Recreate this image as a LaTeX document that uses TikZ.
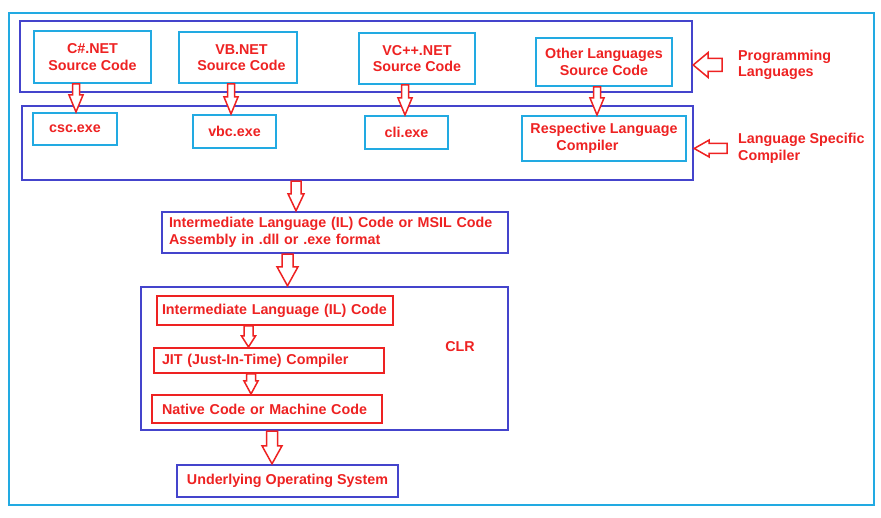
\documentclass[tikz,border=0pt]{standalone}
\usepackage{fontspec}
\setmainfont{Liberation Sans}
\usetikzlibrary{calc}
\definecolor{cy}{RGB}{34,170,226}
\definecolor{bl}{RGB}{68,68,204}
\definecolor{rd}{RGB}{238,34,34}
% down arrow: x, from node, to node, shaft half width, head half width, head length
\newcommand{\darr}[6]{%
  \draw[harrow] let \p1=(#2.south), \p2=(#3.north) in
   ({#1pt-#4pt},\y1) -- ({#1pt-#4pt},{\y2+#6pt}) -- ({#1pt-#5pt},{\y2+#6pt}) -- (#1pt,\y2)
   -- ({#1pt+#5pt},{\y2+#6pt}) -- ({#1pt+#4pt},{\y2+#6pt}) -- ({#1pt+#4pt},\y1) -- cycle;}
% left arrow: from label, to box, (unused), shaft half, head half, head length, gap
\newcommand{\larr}[7]{%
  \draw[harrow] let \p1=(#1.west), \p2=(#2.east) in
   ({\x1-#7pt},{\y1+#4pt}) -- ({\x2+#6pt},{\y1+#4pt}) -- ({\x2+#6pt},{\y1+#5pt}) -- (\x2,\y1)
   -- ({\x2+#6pt},{\y1-#5pt}) -- ({\x2+#6pt},{\y1-#4pt}) -- ({\x1-#7pt},{\y1-#4pt}) -- cycle;}
\tikzset{
  every node/.style={inner sep=0pt, font=\bfseries\fontsize{14.3}{16.5}\selectfont, text=rd},
  cbox/.style={draw=cy, line width=2pt},
  bbox/.style={draw=bl, line width=2.4pt},
  rbox/.style={draw=rd, line width=2pt},
  harrow/.style={draw=rd, line width=1.5pt, fill=white, line join=miter},
}
\begin{document}
\begin{tikzpicture}[x=1pt, y=-1pt]
\fill[white] (0,0) rectangle (881,518);
\useasboundingbox (0,0) rectangle (881,518);
\node[draw=cy, line width=2pt, minimum width=865pt, minimum height=492pt] (frame) at (441.5,259) {};
\node[bbox, minimum width=672pt, minimum height=71pt] (pl) at (356,56.5) {};
\node[bbox, minimum width=671pt, minimum height=74pt] (lc) at (357.5,143) {};
% source code boxes
\node[cbox, minimum width=117pt, minimum height=52pt, align=center] (cs) at (92.5,57) {C\#.NET\\Source Code};
\node[cbox, minimum width=118pt, minimum height=51pt, align=center] (vb) at (238,57.5) {\hspace*{7pt}VB.NET\\\hspace*{7pt}Source Code};
\node[cbox, minimum width=116pt, minimum height=51pt, align=center] (vc) at (417,58.5) {VC++.NET\\Source Code};
\node[cbox, minimum width=136pt, minimum height=48pt, align=center] (ot) at (604,62) {Other Languages\\Source Code};
% compiler boxes
\node[cbox, minimum width=84pt, minimum height=32pt] (csc) at (75,129) {csc.exe};
\node[cbox, minimum width=83pt, minimum height=33pt] (vbc) at (234.5,131.5) {vbc.exe};
\node[cbox, minimum width=83pt, minimum height=33pt] (cli) at (406.5,132.5) {cli.exe};
\node[cbox, minimum width=164pt, minimum height=45pt, align=left] (rl) at (604,138.5) {Respective Language\\\hspace*{26pt}Compiler};
% labels on the right
\node[anchor=west, align=left] (pll) at (738,65) {Programming\\Languages};
\node[anchor=west, align=left] (lcl) at (738,148.5) {Language Specific\\Compiler};
% IL
\node[bbox, minimum width=346pt, minimum height=41pt, inner xsep=7pt, text width=332pt, align=left] (il) at (335,232.5) {Intermediate Language (IL) Code or MSIL Code\\Assembly in .dll or .exe format};
% CLR
\node[bbox, minimum width=367pt, minimum height=143pt] (clr) at (324.5,358.5) {};
\node (clrl) at (460,347) {CLR};
\node[rbox, minimum width=236pt, minimum height=29pt, inner xsep=5pt, text width=226pt, align=left] (ilc) at (275,310.5) {Intermediate Language (IL) Code};
\node[rbox, minimum width=230pt, minimum height=25pt, inner xsep=8pt, text width=214pt, align=left] (jit) at (269,360.5) {JIT (Just-In-Time) Compiler};
\node[rbox, minimum width=230pt, minimum height=28pt, inner xsep=10pt, text width=210pt, align=left] (nat) at (267,409) {Native Code or Machine Code};
% OS
\node[bbox, minimum width=221pt, minimum height=32pt] (os) at (287.5,481) {Underlying Operating System};
% arrows
\darr{76}{cs}{csc}{3.5}{7}{17}
\darr{231}{vb}{vbc}{3.5}{7}{17}
\darr{405}{vc}{cli}{3.5}{7}{17}
\darr{597}{ot}{rl}{3.5}{7}{17}
\darr{296}{lc}{il}{5}{8}{17}
\darr{287.5}{il}{clr}{5.5}{10.5}{19}
\darr{248.5}{ilc}{jit}{4.5}{7}{11}
\darr{251}{jit}{nat}{4.5}{7}{13}
\darr{272}{clr}{os}{5.5}{10}{18}
\larr{pll}{pl}{0}{6.5}{12.5}{15}{16}
\larr{lcl}{lc}{0}{5}{8.5}{15}{11}
\end{tikzpicture}
\end{document}
